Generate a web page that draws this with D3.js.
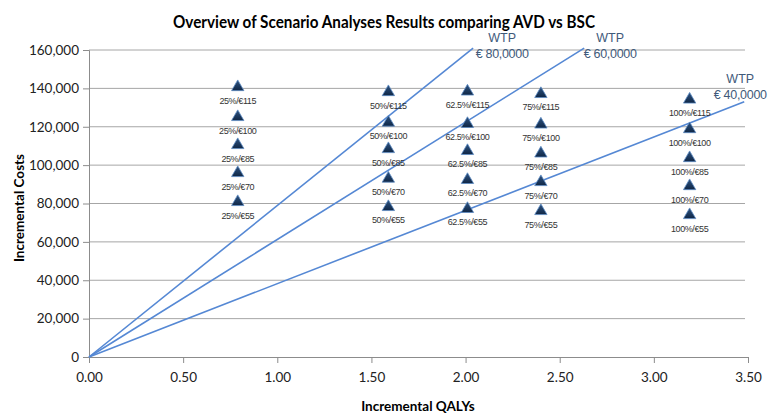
<!DOCTYPE html>
<html>
<head>
<meta charset="utf-8">
<script src="https://cdn.jsdelivr.net/npm/d3@7"></script>
<style>
  html, body { margin: 0; padding: 0; background: #fff; }
  svg { display: block; }
</style>
</head>
<body>
<svg id="chart" width="768" height="414"></svg>
<script>
// ---- data ----
const shares = ["25%", "50%", "62.5%", "75%", "100%"];
const qalys = [0.79, 1.59, 2.01, 2.40, 3.19];
const prices = ["€55", "€70", "€85", "€100", "€115"];
const costs25 = [81300, 96400, 111000, 125600, 141200];
const costs50 = [78700, 93500, 108900, 122700, 138600];
const costs625 = [77700, 92800, 107900, 122000, 138900];
const costs75 = [76600, 91700, 106600, 121700, 137600];
const costs100 = [74500, 89600, 104200, 119300, 134700];
const wtpLabels = ["€ 80,0000", "€ 60,0000", "€ 40,0000"];
const wtpEndX = [2.04, 2.63, 3.48];
const wtpEndY = [161000, 161000, 133000];
const xTicks = [0, 0.5, 1, 1.5, 2, 2.5, 3, 3.5];
const yTicks = [0, 20000, 40000, 60000, 80000, 100000, 120000, 140000, 160000];

const costsByGroup = [costs25, costs50, costs625, costs75, costs100];
const points = [];
shares.forEach((s, i) => {
  prices.forEach((p, j) => {
    points.push({ x: qalys[i], y: costsByGroup[i][j], label: s + "/" + p });
  });
});

// ---- layout ----
const svg = d3.select("#chart");
const x = d3.scaleLinear().domain([0, 3.5]).range([89, 748]);
const y = d3.scaleLinear().domain([0, 160000]).range([357, 50]);

// gridlines
svg.append("g").selectAll("line")
  .data(yTicks.filter(d => d > 0)).join("line")
  .attr("x1", x(0)).attr("x2", 745)
  .attr("y1", d => y(d)).attr("y2", d => y(d))
  .attr("stroke", "#a6a6a6").attr("stroke-width", 1);

// y axis
const yAxis = svg.append("g").attr("transform", `translate(${x(0)},0)`)
  .call(d3.axisLeft(y).tickValues(yTicks).tickFormat(d3.format(",")).tickSize(6).tickPadding(4));
// x axis
const xAxis = svg.append("g").attr("transform", `translate(0,${y(0)})`)
  .call(d3.axisBottom(x).tickValues(xTicks).tickFormat(d3.format(".2f")).tickSize(6).tickPadding(9));
[yAxis, xAxis].forEach(a => {
  a.select(".domain").attr("stroke", "#8c8c8c");
  a.selectAll(".tick line").attr("stroke", "#8c8c8c");
  a.selectAll("text").attr("font-family", "Lato, 'Open Sans', sans-serif")
    .attr("font-size", 13.5).attr("fill", "#222");
});

// WTP lines
const wtp = wtpLabels.map((l, i) => ({ label: l, x: wtpEndX[i], y: wtpEndY[i] }));
svg.append("g").selectAll("line").data(wtp).join("line")
  .attr("x1", x(0)).attr("y1", y(0))
  .attr("x2", d => x(d.x)).attr("y2", d => y(d.y))
  .attr("stroke", "#5588d4").attr("stroke-width", 1.6);

const wtpOffsets = [[29, -6], [26, -6], [-4, -19]];
const wl = svg.append("g").selectAll("g").data(wtp).join("g")
  .attr("transform", (d, i) => `translate(${x(d.x) + wtpOffsets[i][0]},${y(d.y) + wtpOffsets[i][1]})`)
  .attr("font-family", "'Liberation Sans', Arial, sans-serif")
  .attr("font-size", 12.5).attr("fill", "#3f5a7a").attr("text-anchor", "middle");
wl.append("text").attr("y", 0).text("WTP");
wl.append("text").attr("y", 16).attr("letter-spacing", -0.3).text(d => d.label);

// triangles
const defs = svg.append("defs");
const grad = defs.append("linearGradient").attr("id", "tri").attr("x1", 0).attr("y1", 0).attr("x2", 0).attr("y2", 1);
grad.append("stop").attr("offset", "0%").attr("stop-color", "#2f5583");
grad.append("stop").attr("offset", "100%").attr("stop-color", "#0f2645");

const tri = d3.symbol().type(d3.symbolTriangle).size(66);
svg.append("g").selectAll("path").data(points).join("path")
  .attr("d", tri)
  .attr("transform", d => `translate(${x(d.x)},${y(d.y) + 1})`)
  .attr("fill", "url(#tri)").attr("stroke", "#5d8cc4").attr("stroke-width", 0.8);

svg.append("g").selectAll("text").data(points).join("text")
  .attr("x", d => x(d.x)).attr("y", d => y(d.y) + 17.5)
  .attr("text-anchor", "middle")
  .attr("font-family", "'Liberation Sans', Arial, sans-serif")
  .attr("font-size", 9).attr("letter-spacing", -0.4).attr("fill", "#333")
  .text(d => d.label);

// title
svg.append("text").attr("x", 384).attr("y", 28).attr("text-anchor", "middle")
  .attr("font-family", "Lato, 'Open Sans', sans-serif").attr("font-weight", "bold")
  .attr("font-size", 16.5).attr("textLength", 422).attr("lengthAdjust", "spacingAndGlyphs")
  .attr("fill", "#000")
  .text("Overview of Scenario Analyses Results comparing AVD vs BSC");

// axis titles
svg.append("text").attr("x", 418).attr("y", 411).attr("text-anchor", "middle")
  .attr("font-family", "Lato, 'Open Sans', sans-serif").attr("font-weight", "bold")
  .attr("font-size", 13.5).attr("fill", "#000").text("Incremental QALYs");
svg.append("text").attr("transform", "translate(24,208) rotate(-90)").attr("text-anchor", "middle")
  .attr("font-family", "Lato, 'Open Sans', sans-serif").attr("font-weight", "bold")
  .attr("font-size", 13.5).attr("fill", "#000").text("Incremental Costs");
</script>
</body>
</html>
